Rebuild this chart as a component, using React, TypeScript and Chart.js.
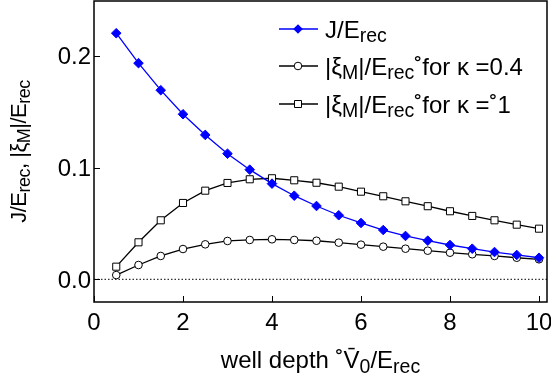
import React, { useEffect, useRef } from "react";
import { Chart, registerables } from "chart.js";

Chart.register(...registerables);

// ---------- data ----------
const wellDepth = [0.5, 1, 1.5, 2, 2.5, 3, 3.5, 4, 4.5, 5, 5.5, 6, 6.5, 7, 7.5, 8, 8.5, 9, 9.5, 10];
const jOverErec = [0.2202, 0.1934, 0.1692, 0.1477, 0.1292, 0.1124, 0.0981, 0.0856, 0.0748, 0.0656, 0.0573, 0.0504, 0.0441, 0.0388, 0.0346, 0.0307, 0.0274, 0.0244, 0.0218, 0.0193];
const xiKappa04 = [0.0038, 0.0128, 0.0209, 0.0271, 0.0313, 0.0343, 0.0352, 0.0358, 0.0352, 0.0345, 0.0328, 0.031, 0.0292, 0.0274, 0.0256, 0.0238, 0.0224, 0.0209, 0.0193, 0.0179];
const xiKappa1 = [0.0113, 0.0331, 0.0528, 0.0683, 0.0793, 0.0862, 0.0895, 0.0904, 0.0886, 0.0864, 0.0829, 0.0784, 0.0743, 0.0698, 0.0654, 0.0609, 0.0567, 0.0528, 0.0489, 0.0453];
const xTicks = [0, 2, 4, 6, 8, 10];
const xTickLabels = ["0", "2", "4", "6", "8", "10"];
const yTicks = [0, 0.1, 0.2];
const yTickLabels = ["0.0", "0.1", "0.2"];

type Seg = { t: string; sub?: boolean };
const legendRows: Seg[][] = [
  [{ t: "J/E" }, { t: "rec", sub: true }],
  [{ t: "|ξ" }, { t: "M", sub: true }, { t: "|/E" }, { t: "rec", sub: true }, { t: "˚for κ =0.4" }],
  [{ t: "|ξ" }, { t: "M", sub: true }, { t: "|/E" }, { t: "rec", sub: true }, { t: "˚for κ =˚1" }],
];
const xTitle: Seg[] = [{ t: "well depth ˚V̄" }, { t: "0", sub: true }, { t: "/E" }, { t: "rec", sub: true }];
const yTitle: Seg[] = [{ t: "J/E" }, { t: "rec", sub: true }, { t: ", |ξ" }, { t: "M", sub: true }, { t: "|/E" }, { t: "rec", sub: true }];

const FAMILY = '"Liberation Sans", Arial, Helvetica, sans-serif';
type Fonts = { main: number; sub: number; drop: number; spacing: string };
const BIG: Fonts = { main: 24, sub: 19.5, drop: 4.5, spacing: "0px" };
const YTITLE: Fonts = { main: 22, sub: 18, drop: 4, spacing: "-0.5px" };

function setFont(ctx: CanvasRenderingContext2D, s: Seg, f: Fonts) {
  ctx.font = `${s.sub ? f.sub : f.main}px ${FAMILY}`;
  (ctx as any).letterSpacing = f.spacing;
}

function segWidth(ctx: CanvasRenderingContext2D, segs: Seg[], f: Fonts) {
  let w = 0;
  for (const s of segs) {
    setFont(ctx, s, f);
    w += ctx.measureText(s.t).width;
  }
  return w;
}

// draws rich text at the current transform origin
function drawSegs(ctx: CanvasRenderingContext2D, segs: Seg[], align: "left" | "center" | "right", f: Fonts) {
  const w = segWidth(ctx, segs, f);
  let cx = align === "center" ? -w / 2 : align === "right" ? -w : 0;
  ctx.textAlign = "left";
  ctx.textBaseline = "alphabetic";
  ctx.fillStyle = "#000";
  for (const s of segs) {
    setFont(ctx, s, f);
    ctx.fillText(s.t, cx, s.sub ? f.drop : 0);
    cx += ctx.measureText(s.t).width;
  }
  (ctx as any).letterSpacing = "0px";
}

function drawText(ctx: CanvasRenderingContext2D, segs: Seg[], x: number, y: number, align: "left" | "center" | "right") {
  ctx.save();
  ctx.translate(x, y);
  drawSegs(ctx, segs, align, BIG);
  ctx.restore();
}

const decorPlugin = {
  id: "decor",
  beforeDatasetsDraw(chart: any) {
    const { ctx, chartArea, scales } = chart;
    const y0 = scales.y.getPixelForValue(0);
    ctx.save();
    ctx.strokeStyle = "#000";
    ctx.lineWidth = 1;
    ctx.setLineDash([1.5, 2]);
    ctx.beginPath();
    ctx.moveTo(chartArea.left, y0);
    ctx.lineTo(chartArea.right, y0);
    ctx.stroke();
    ctx.restore();
  },
  afterDraw(chart: any) {
    const { ctx, chartArea, scales } = chart;
    ctx.save();
    ctx.strokeStyle = "#000";
    ctx.lineWidth = 1.5;
    ctx.strokeRect(chartArea.left, chartArea.top, chartArea.right - chartArea.left, chartArea.bottom - chartArea.top);
    ctx.lineWidth = 1;
    ctx.beginPath();
    for (const v of xTicks) {
      const px = Math.round(scales.x.getPixelForValue(v)) + 0.5;
      ctx.moveTo(px, chartArea.bottom);
      ctx.lineTo(px, chartArea.bottom - 6);
    }
    for (const v of yTicks) {
      const py = Math.round(scales.y.getPixelForValue(v)) + 0.5;
      ctx.moveTo(chartArea.left, py);
      ctx.lineTo(chartArea.left + 6, py);
    }
    ctx.stroke();

    // tick labels
    xTicks.forEach((v, i) => {
      drawText(ctx, [{ t: xTickLabels[i] }], scales.x.getPixelForValue(v), chartArea.bottom + 27.5, "center");
    });
    yTicks.forEach((v, i) => {
      drawText(ctx, [{ t: yTickLabels[i] }], chartArea.left - 3, scales.y.getPixelForValue(v) + 8.6, "right");
    });

    // legend
    const lx0 = 279, lx1 = 318, mx = 298, tx = 325;
    const rowsY = [29, 66, 104];
    const styles = [
      { color: "#0000ff", shape: "diamond" },
      { color: "#000", shape: "circle" },
      { color: "#000", shape: "square" },
    ];
    rowsY.forEach((ry, i) => {
      const st = styles[i];
      ctx.strokeStyle = st.color;
      ctx.lineWidth = 1.3;
      ctx.beginPath();
      ctx.moveTo(lx0, ry);
      ctx.lineTo(lx1, ry);
      ctx.stroke();
      ctx.beginPath();
      if (st.shape === "diamond") {
        const r = 4.8;
        ctx.moveTo(mx - r, ry);
        ctx.lineTo(mx, ry - r);
        ctx.lineTo(mx + r, ry);
        ctx.lineTo(mx, ry + r);
        ctx.closePath();
        ctx.fillStyle = st.color;
        ctx.fill();
      } else if (st.shape === "circle") {
        ctx.lineWidth = 1;
        ctx.arc(mx, ry, 3.8, 0, Math.PI * 2);
        ctx.fillStyle = "#fff";
        ctx.fill();
        ctx.stroke();
      } else {
        ctx.lineWidth = 1;
        ctx.rect(mx - 3.5, ry - 3.5, 7, 7);
        ctx.fillStyle = "#fff";
        ctx.fill();
        ctx.stroke();
      }
      drawText(ctx, legendRows[i], tx, ry + 8.5, "left");
    });

    // axis titles
    const cxMid = (chartArea.left + chartArea.right) / 2;
    drawText(ctx, xTitle, cxMid, 368, "center");
    const cyMid = (chartArea.top + chartArea.bottom) / 2;
    ctx.save();
    ctx.translate(26, cyMid);
    ctx.rotate(-Math.PI / 2);
    drawSegs(ctx, yTitle, "center", YTITLE);
    ctx.restore();
    ctx.restore();
  },
};

export default function App() {
  const ref = useRef<HTMLCanvasElement | null>(null);
  useEffect(() => {
    if (!ref.current) return;
    const chart = new Chart(ref.current, {
      type: "line",
      data: {
        datasets: [
          {
            label: "J/Erec",
            data: wellDepth.map((x, i) => ({ x, y: jOverErec[i] })),
            borderColor: "#0000ff",
            backgroundColor: "#0000ff",
            borderWidth: 1.3,
            pointStyle: "rectRot",
            pointRadius: 4.8,
            pointBorderWidth: 1,
          },
          {
            label: "kappa 0.4",
            data: wellDepth.map((x, i) => ({ x, y: xiKappa04[i] })),
            borderColor: "#000",
            backgroundColor: "#fff",
            borderWidth: 1.3,
            pointStyle: "circle",
            pointRadius: 3.8,
            pointBorderWidth: 1,
          },
          {
            label: "kappa 1",
            data: wellDepth.map((x, i) => ({ x, y: xiKappa1[i] })),
            borderColor: "#000",
            backgroundColor: "#fff",
            borderWidth: 1.3,
            pointStyle: "rect",
            pointRadius: 5,
            pointBorderWidth: 1,
          },
        ],
      },
      options: {
        animation: false,
        responsive: false,
        layout: { autoPadding: false, padding: { top: 1, right: 4, left: 0, bottom: 0 } },
        plugins: { legend: { display: false }, tooltip: { enabled: false } },
        scales: {
          x: {
            type: "linear",
            min: 0,
            max: 10.18,
            afterBuildTicks: (s: any) => {
              s.ticks = xTicks.map((v) => ({ value: v }));
            },
            afterFit: (s: any) => {
              s.height = 84;
              s.paddingLeft = 0;
              s.paddingRight = 0;
            },
            ticks: { display: false },
            grid: { display: false, drawTicks: false },
            border: { display: false },
          },
          y: {
            type: "linear",
            min: -0.0203,
            max: 0.249,
            afterBuildTicks: (s: any) => {
              s.ticks = yTicks.map((v) => ({ value: v }));
            },
            afterFit: (s: any) => {
              s.width = 94;
              s.paddingTop = 0;
              s.paddingBottom = 0;
            },
            ticks: { display: false },
            grid: { display: false, drawTicks: false },
            border: { display: false },
          },
        },
      },
      plugins: [decorPlugin],
    } as any);
    return () => chart.destroy();
  }, []);
  return (
    <div style={{ position: "absolute", left: 0, top: 0, width: 551, height: 386, background: "#fff" }}>
      <canvas ref={ref} width={551} height={386} style={{ display: "block" }} />
    </div>
  );
}
